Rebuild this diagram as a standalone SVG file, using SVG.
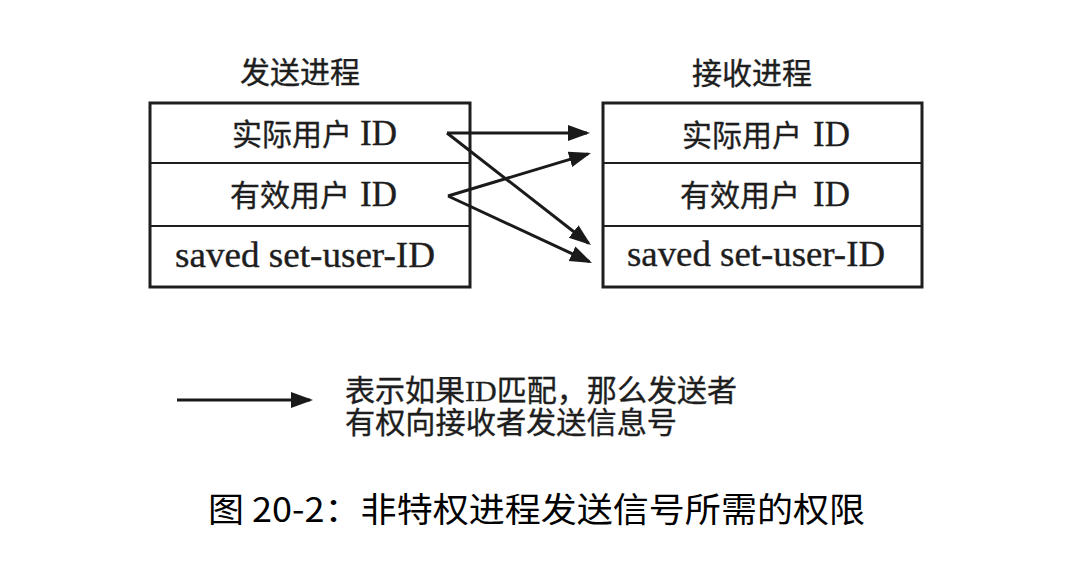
<svg xmlns="http://www.w3.org/2000/svg" width="1070" height="579" viewBox="0 0 1070 579">
<style>
.t{font-family:"Liberation Serif","Noto Sans CJK SC",serif;fill:#1e1e1e;font-size:30px;stroke:#1e1e1e;stroke-width:0.35}
.l{font-size:35px}
.cap{font-family:"Noto Sans CJK SC","Noto Sans",sans-serif;fill:#000;font-size:34px}
.box{fill:#fff;stroke:#1e1e1e;stroke-width:3}
.div{stroke:#1e1e1e;stroke-width:2}
.con{stroke:#1a1a1a;stroke-width:3;fill:none;marker-end:url(#ah)}
</style>
<defs>
<marker id="ah" markerUnits="userSpaceOnUse" markerWidth="24" markerHeight="18" refX="19" refY="8" orient="auto">
<path d="M0,0 L22,8 L0,16 z" fill="#1a1a1a"/>
</marker>
</defs>
<rect width="1070" height="579" fill="#fff"/>
<g id="sender">
<text class="t" x="240" y="83" textLength="120" lengthAdjust="spacingAndGlyphs">发送进程</text>
<rect class="box" x="150" y="103" width="320" height="184"/>
<line class="div" x1="150" y1="163" x2="470" y2="163"/>
<line class="div" x1="150" y1="226" x2="470" y2="226"/>
<text class="t" x="232" y="145">实际用户<tspan class="l" x="360">ID</tspan></text>
<text class="t" x="230" y="206">有效用户<tspan class="l" x="360">ID</tspan></text>
<text class="t l" x="175" y="267" textLength="260" lengthAdjust="spacingAndGlyphs">saved set-user-ID</text>
</g>
<g id="receiver">
<text class="t" x="692" y="84" textLength="120" lengthAdjust="spacingAndGlyphs">接收进程</text>
<rect class="box" x="603" y="103" width="319" height="184"/>
<line class="div" x1="603" y1="163" x2="922" y2="163"/>
<line class="div" x1="603" y1="226" x2="922" y2="226"/>
<text class="t" x="682" y="146">实际用户<tspan class="l" x="813">ID</tspan></text>
<text class="t" x="680" y="206">有效用户<tspan class="l" x="813">ID</tspan></text>
<text class="t l" x="627" y="266" textLength="258" lengthAdjust="spacingAndGlyphs">saved set-user-ID</text>
</g>
<g id="connectors">
<line class="con" x1="447" y1="133" x2="587" y2="133"/>
<line class="con" x1="447" y1="133" x2="588.6" y2="243.2"/>
<line class="con" x1="448" y1="196" x2="588.1" y2="153.9"/>
<line class="con" x1="448" y1="196" x2="589.3" y2="261.7"/>
</g>
<g id="legend">
<line class="con" x1="177" y1="400" x2="310" y2="400"/>
<text class="t" x="345" y="401" textLength="392" lengthAdjust="spacingAndGlyphs">表示如果ID匹配，那么发送者</text>
<text class="t" x="345" y="433" textLength="332" lengthAdjust="spacingAndGlyphs">有权向接收者发送信息号</text>
</g>
<g id="caption">
<text class="cap" x="208" y="522" textLength="657" lengthAdjust="spacingAndGlyphs">图 20-2：非特权进程发送信号所需的权限</text>
</g>
</svg>
